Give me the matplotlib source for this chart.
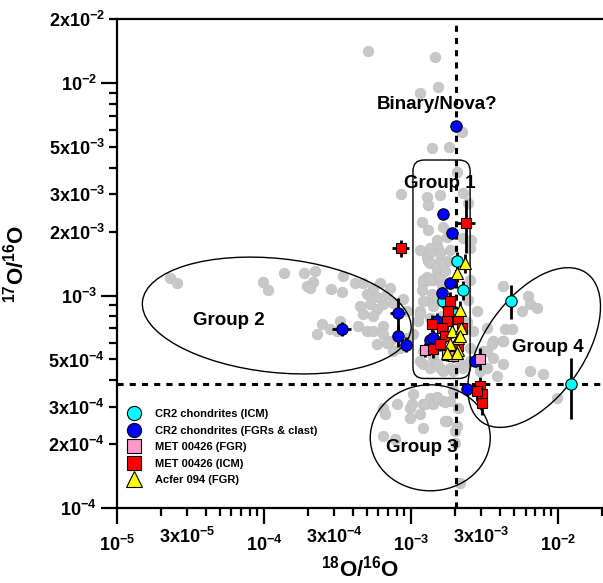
import numpy as np
import matplotlib
matplotlib.use("Agg")
import matplotlib.pyplot as plt
import matplotlib.transforms as mtransforms
from matplotlib.patches import Ellipse, FancyBboxPatch
from matplotlib.lines import Line2D

plt.rcParams['font.family'] = ['Liberation Sans', 'DejaVu Sans']
plt.rcParams['font.weight'] = 'bold'
plt.rcParams['mathtext.fontset'] = 'custom'
plt.rcParams['mathtext.bf'] = 'Liberation Sans:bold'
plt.rcParams['mathtext.rm'] = 'Liberation Sans:bold'
plt.rcParams['mathtext.default'] = 'bf'

# solar reference ratios
solar_18 = 2.005e-3
solar_17 = 3.83e-4

# literature presolar grains (grey background)
gray_x = [5.09e-4, 1.46e-3, 1.15e-3, 1.53e-3, 2.22e-3, 1.39e-3, 1.81e-3, 2.06e-3,
          8.55e-4, 1.28e-3, 1.57e-3, 1.31e-3, 2.26e-3, 2.44e-3, 1.19e-3, 1.31e-3,
          1.65e-3, 1.50e-3, 1.76e-3, 1.35e-3, 1.53e-3, 2.26e-3, 1.84e-3, 2.52e-3,
          1.15e-3, 1.28e-3, 2.56e-3, 1.79e-3, 1.35e-3, 1.31e-3,
          2.30e-5, 2.56e-5, 9.8e-5, 1.06e-4, 1.37e-4, 1.87e-4, 2.22e-4, 2.16e-4,
          1.96e-4, 2.06e-4, 2.86e-4, 3.39e-4, 3.45e-4, 2.48e-4, 2.30e-4, 2.81e-4,
          3.14e-4, 3.29e-4,
          4.16e-4, 4.71e-4, 5.02e-4, 5.51e-4, 6.15e-4, 7.2e-4, 4.50e-4, 5.26e-4,
          5.87e-4, 6.45e-4, 4.71e-4, 5.51e-4, 4.36e-4, 5.02e-4, 6.45e-4, 5.87e-4,
          7.2e-4, 7.55e-4, 8.4e-4, 9.4e-4, 9.4e-4, 1.03e-3, 1.12e-3, 1.15e-3,
          1.35e-3, 1.21e-3, 1.28e-3, 1.41e-3, 1.57e-3, 1.21e-3, 1.35e-3, 1.57e-3,
          1.84e-3, 2.15e-3, 1.21e-3, 1.41e-3, 2.52e-3,
          3.09e-3, 3.61e-3, 4.22e-3, 3.61e-3, 3.29e-3, 4.22e-3, 2.95e-3, 3.85e-3,
          4.22e-3, 6.25e-3, 6.45e-3, 7.19e-3, 5.69e-3, 4.36e-3, 4.86e-3, 4.22e-3,
          3.56e-3, 3.29e-3, 6.45e-3, 7.91e-3, 9.85e-3,
          1.03e-3, 1.35e-3, 1.65e-3, 1.21e-3, 1.93e-3, 6.45e-4, 8.03e-4, 9.8e-4,
          1.84e-3, 1.76e-3, 2.06e-3, 6.65e-4, 1.01e-3, 1.24e-3, 1.41e-3, 1.70e-3,
          1.50e-3, 9.8e-4, 1.15e-3, 1.21e-3, 1.70e-3, 6.45e-4, 7.78e-4, 1.99e-3,
          1.99e-3, 2.09e-3, 2.15e-3,
          1.57e-3, 1.35e-3, 1.50e-3, 1.21e-3, 1.35e-3, 1.57e-3, 1.19e-3, 1.39e-3,
          1.21e-3, 1.41e-3, 1.15e-3, 1.35e-3, 1.50e-3, 1.63e-3, 5.87e-4, 6.87e-4,
          7.55e-4, 8.83e-4, 5.51e-4, 6.45e-4, 6.87e-4, 1.15e-3, 1.50e-3, 1.65e-3,
          1.93e-3, 2.26e-3, 2.52e-3,
          2.52e-3, 2.45e-3, 1.70e-3, 2.40e-3, 1.62e-3, 2.81e-3, 2.65e-3, 3.29e-3]
gray_y = [1.42e-2, 1.33e-2, 8.97e-3, 9.58e-3, 5.87e-3, 4.93e-3, 4.99e-3, 3.80e-3,
          2.99e-3, 2.90e-3, 2.96e-3, 2.66e-3, 3.03e-3, 2.72e-3, 2.21e-3, 2.03e-3,
          2.09e-3, 1.82e-3, 1.88e-3, 1.68e-3, 1.68e-3, 1.86e-3, 1.63e-3, 1.68e-3,
          1.63e-3, 1.51e-3, 1.82e-3, 1.46e-3, 1.58e-3, 1.46e-3,
          1.21e-3, 1.15e-3, 1.16e-3, 1.06e-3, 1.27e-3, 1.27e-3, 1.30e-3, 1.16e-3,
          1.11e-3, 1.09e-3, 1.07e-3, 1.04e-3, 1.24e-3, 7.38e-4, 6.62e-4, 6.98e-4,
          6.84e-4, 7.62e-4,
          1.14e-3, 1.15e-3, 1.02e-3, 1.09e-3, 1.15e-3, 1.09e-3, 8.97e-4, 9.17e-4,
          8.68e-4, 9.17e-4, 8.22e-4, 8.05e-4, 7.22e-4, 6.84e-4, 7.22e-4, 5.94e-4,
          6.14e-4, 5.50e-4, 5.69e-4, 8.50e-4, 6.34e-4, 6.62e-4, 7.62e-4, 8.50e-4,
          9.47e-4, 1.14e-3, 1.22e-3, 1.18e-3, 1.46e-3, 4.78e-4, 4.57e-4, 4.57e-4,
          4.57e-4, 4.78e-4, 5.50e-4, 5.10e-4, 5.69e-4,
          5.50e-4, 6.14e-4, 6.14e-4, 5.10e-4, 4.57e-4, 4.78e-4, 4.42e-4, 4.19e-4,
          1.11e-3, 1.00e-3, 9.17e-4, 8.77e-4, 8.50e-4, 6.98e-4, 6.98e-4, 6.14e-4,
          5.94e-4, 5.50e-4, 4.42e-4, 4.28e-4, 3.30e-4,
          3.45e-4, 3.30e-4, 3.20e-4, 3.10e-4, 3.56e-4, 2.96e-4, 3.10e-4, 2.96e-4,
          3.20e-4, 2.57e-4, 2.44e-4, 2.77e-4, 3.10e-4, 3.10e-4, 3.10e-4, 3.16e-4,
          3.34e-4, 2.66e-4, 2.77e-4, 2.38e-4, 2.57e-4, 2.19e-4, 2.12e-4, 2.31e-4,
          2.03e-4, 2.96e-4, 1.31e-4,
          1.58e-3, 1.42e-3, 1.31e-3, 1.18e-3, 1.18e-3, 1.22e-3, 1.06e-3, 1.02e-3,
          9.47e-4, 8.97e-4, 8.22e-4, 7.87e-4, 9.79e-4, 1.11e-3, 9.79e-4, 1.02e-3,
          9.27e-4, 9.68e-4, 6.84e-4, 6.62e-4, 6.00e-4, 4.94e-4, 4.78e-4, 4.42e-4,
          4.42e-4, 4.57e-4, 4.94e-4,
          1.18e-3, 9.5e-4, 1.30e-3, 7.5e-4, 8.0e-4, 8.50e-4, 6.84e-4, 7.06e-4]

# CR2 chondrites (ICM)
cyan_x = [2.06e-3, 2.26e-3, 1.65e-3, 4.79e-3, 1.22e-2, 1.99e-3]
cyan_y = [1.46e-3, 1.06e-3, 9.47e-4, 9.47e-4, 3.85e-4, 8.22e-4]
cyan_xe = [4, 4, 3, 4, 4, 3]          # 1-sigma, percent
cyan_ye = [10, 10, 8, 18, 32, 8]

# CR2 chondrites (FGRs & clast)
blue_x = [2.02e-3, 1.65e-3, 1.90e-3, 3.39e-4, 8.16e-4, 8.16e-4, 9.25e-4,
          1.63e-3, 1.84e-3, 1.35e-3, 1.41e-3, 2.40e-3, 2.73e-3, 1.50e-3]
blue_y = [6.27e-3, 2.41e-3, 1.96e-3, 6.98e-4, 8.31e-4, 6.48e-4, 5.88e-4,
          1.03e-3, 1.14e-3, 6.20e-4, 6.34e-4, 3.64e-4, 4.94e-4, 7.62e-4]
blue_xe = [3, 3, 3, 15, 12, 5, 4, 3, 3, 4, 4, 3, 3, 3]
blue_ye = [5, 5, 5, 8, 17, 12, 8, 6, 6, 8, 8, 6, 6, 8]

# MET 00426 (FGR)
pink_x = [1.24e-3, 2.95e-3, 1.76e-3, 1.93e-3]
pink_y = [5.56e-4, 5.05e-4, 5.25e-4, 5.20e-4]
pink_xe = [3, 3, 3, 3]
pink_ye = [8, 12, 6, 6]

# MET 00426 (ICM)
red_x = [8.55e-4, 2.37e-3, 1.84e-3, 1.79e-3, 1.76e-3, 1.39e-3, 2.09e-3, 1.63e-3, 1.70e-3,
         1.41e-3, 1.57e-3, 2.09e-3, 2.22e-3, 2.95e-3, 3.04e-3, 3.04e-3, 2.81e-3]
red_y = [1.67e-3, 2.19e-3, 9.47e-4, 8.50e-4, 7.62e-4, 7.38e-4, 7.79e-4, 7.06e-4, 6.48e-4,
         5.63e-4, 5.94e-4, 5.81e-4, 7.06e-4, 3.76e-4, 3.45e-4, 3.13e-4, 3.56e-4]
red_xe = [13, 15, 3, 3, 3, 3, 3, 3, 3, 3, 3, 3, 3, 3, 3, 3, 3]
red_ye = [9, 28, 10, 10, 10, 10, 10, 8, 8, 10, 8, 10, 10, 10, 10, 12, 10]

# Acfer 094 (FGR)
yel_x = [2.33e-3, 2.06e-3, 2.15e-3, 1.90e-3, 2.19e-3, 2.09e-3, 1.84e-3, 2.09e-3,
         1.76e-3, 2.06e-3, 2.15e-3]
yel_y = [1.42e-3, 1.28e-3, 8.59e-4, 6.84e-4, 7.06e-4, 6.34e-4, 5.94e-4, 5.56e-4,
         5.38e-4, 5.38e-4, 6.48e-4]
yel_xe = [3] * 11
yel_ye = [10, 10, 10, 8, 8, 8, 8, 8, 8, 8, 8]

series = [
    ("CR2 chondrites (ICM)", cyan_x, cyan_y, cyan_xe, cyan_ye, 'o', '#00ffff', 8.2),
    ("CR2 chondrites (FGRs & clast)", blue_x, blue_y, blue_xe, blue_ye, 'o', '#0000ff', 8.2),
    ("MET 00426 (FGR)", pink_x, pink_y, pink_xe, pink_ye, 's', '#ff99cc', 7.8),
    ("MET 00426 (ICM)", red_x, red_y, red_xe, red_ye, 's', '#ff0000', 7.8),
    ("Acfer 094 (FGR)", yel_x, yel_y, yel_xe, yel_ye, '^', '#ffff00', 9.0),
]

fig = plt.figure(figsize=(6.03, 5.83), dpi=100)
ax = fig.add_axes([0.194, 0.1286, 0.805, 0.8388])
ax.set_xscale('log')
ax.set_yscale('log')
ax.set_xlim(1e-5, 2e-2)
ax.set_ylim(1e-4, 2e-2)

ax.plot(gray_x, gray_y, 'o', ms=7.6, color='#c8c8c8', mec='#c0c0c0', mew=0.5, zorder=1)

ax.axvline(solar_18, color='black', lw=2.2, ls=(0, (2, 2)), zorder=2)
ax.axhline(solar_17, color='black', lw=2.2, ls=(0, (2, 2)), zorder=2)

# group outlines, sized in pixels around a data-space centre
def px(x, y):
    return ax.transData.transform((x, y))

ident = mtransforms.IdentityTransform()
ellipses = [((1.22e-4, 8.05e-4), 270, 114, -6),
            ((1.35e-3, 2.14e-4), 120, 106, 0),
            ((6.87e-3, 5.69e-4), 182, 100, 55)]
for (cx, cy), w, h, ang in ellipses:
    ax.add_patch(Ellipse(px(cx, cy), w, h, angle=ang, transform=ident,
                         fill=False, ec='black', lw=1.0, zorder=3))

p0 = px(1.03e-3, 4.07e-4)
p1 = px(2.52e-3, 4.34e-3)
ax.add_patch(FancyBboxPatch(p0, p1[0] - p0[0], p1[1] - p0[1],
                            boxstyle="round,pad=0,rounding_size=11", transform=ident,
                            fill=False, ec='black', lw=1.0, zorder=3))

for name, xs, ys, xe, ye, mk, col, ms in series:
    xs = np.array(xs); ys = np.array(ys)
    ax.errorbar(xs, ys, xerr=xs * np.array(xe) / 100, yerr=ys * np.array(ye) / 100,
                fmt='none', ecolor='black', elinewidth=2.0, capsize=0, zorder=4)
for name, xs, ys, xe, ye, mk, col, ms in series:
    ax.plot(xs, ys, mk, ms=ms, mfc=col, mec='black', mew=0.8, zorder=5)

txt = dict(fontsize=13.5, fontweight='bold', ha='center', va='center', zorder=6)
ax.text(1.50e-3, 7.96e-3, "Binary/Nova?", **txt)
ax.text(1.57e-3, 3.37e-3, "Group 1", **txt)
ax.text(5.78e-5, 7.62e-4, "Group 2", **txt)
ax.text(1.19e-3, 1.92e-4, "Group 3", **txt)
ax.text(8.55e-3, 5.69e-4, "Group 4", **txt)

handles = [Line2D([], [], ls='none', marker=mk, ms=ms + 2, mfc=col, mec='black', mew=0.8)
           for name, xs, ys, xe, ye, mk, col, ms in series]
ax.legend(handles, [s[0] for s in series], loc='upper left', bbox_to_anchor=(0.0, 0.22),
          frameon=False, prop={'size': 8, 'weight': 'bold'}, handletextpad=1.2,
          labelspacing=0.58, borderpad=0.3, handlelength=1.4)

def lab(m, e):
    return r'$%s10^{%d}$' % ('' if m == 1 else '%dx' % m, e)

ax.set_yticks([1e-4, 1e-3, 1e-2], [lab(1, -4), lab(1, -3), lab(1, -2)])
ymin, ymin_lab = [], []
for e in (-4, -3, -2):
    for m in range(2, 10):
        v = m * 10.0 ** e
        if v > 2.01e-2:
            break
        ymin.append(v)
        ymin_lab.append(lab(m, e) if m in (2, 3, 5) else '')
ax.set_yticks(ymin, ymin_lab, minor=True)

ax.set_xticks([1e-5, 1e-4, 1e-3, 1e-2], [lab(1, -5), lab(1, -4), lab(1, -3), lab(1, -2)])
xmin, xmin_lab = [], []
for e in (-5, -4, -3, -2):
    for m in range(2, 10):
        v = m * 10.0 ** e
        if v > 2.01e-2:
            break
        xmin.append(v)
        xmin_lab.append(lab(m, e) if m == 3 else '')
ax.set_xticks(xmin, xmin_lab, minor=True)

ax.tick_params(which='both', direction='out', width=1.6, labelsize=13, pad=3)
ax.tick_params(axis='x', which='both', pad=8)
ax.tick_params(which='major', length=11.5)
ax.tick_params(which='minor', length=5.8)

for s in ('left', 'bottom', 'top'):
    ax.spines[s].set_linewidth(1.6)
ax.spines['right'].set_visible(False)

ax.set_xlabel(r'$^{18}$O/$^{16}$O', fontsize=16, fontweight='bold')
ax.set_ylabel(r'$^{17}$O/$^{16}$O', fontsize=16, fontweight='bold')
ax.xaxis.set_label_coords(0.5, -0.098)
ax.yaxis.set_label_coords(-0.183, 0.5)

fig.savefig('out.png', dpi=100)
